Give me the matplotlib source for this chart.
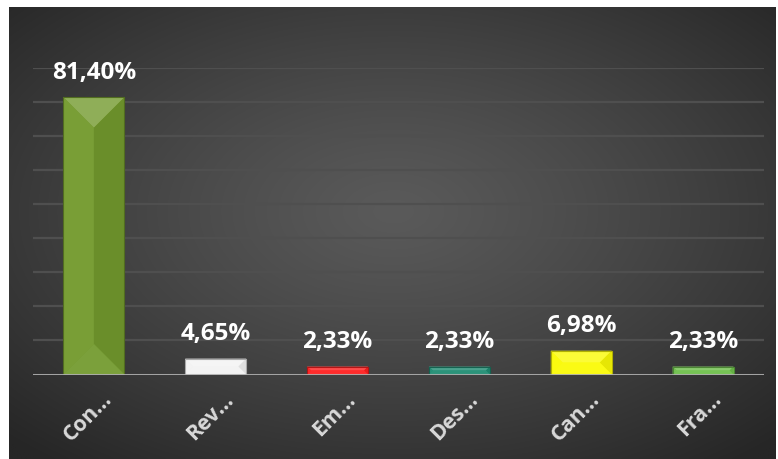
import numpy as np
import matplotlib
matplotlib.use("Agg")
import matplotlib.pyplot as plt
from matplotlib.patches import Polygon
from matplotlib.colors import to_rgb

categories = ["Con…", "Rev…", "Em…", "Des…", "Can…", "Fra…"]
values = [81.40, 4.65, 2.33, 2.33, 6.98, 2.33]
value_labels = ["81,40%", "4,65%", "2,33%", "2,33%", "6,98%", "2,33%"]
bar_colors = ["#739A2E", "#F2F2F2", "#FF1E1E", "#1E8C72", "#FAFA05", "#6DBF4A"]

W, H = 778, 460
fig = plt.figure(figsize=(W / 100, H / 100), dpi=100, facecolor="white")

# background with radial gradient
bg = fig.add_axes([9 / W, 0, (776 - 9) / W, (460 - 8) / H])
bg.set_axis_off()
ny, nx = 200, 340
yy, xx = np.mgrid[0:ny, 0:nx]
cx, cy = nx * 0.5, ny * 0.45
r = np.sqrt(((xx - cx) / (nx * 0.62)) ** 2 + ((yy - cy) / (ny * 0.62)) ** 2)
r = np.clip(r / 1.15, 0, 1)
c_in = np.array(to_rgb("#5a5a5a"))
c_out = np.array(to_rgb("#262626"))
img = c_in[None, None, :] * (1 - r[..., None] ** 1.2) + c_out[None, None, :] * (r[..., None] ** 1.2)
bg.imshow(img, aspect="auto", extent=[0, 1, 0, 1], interpolation="bilinear")
bg.set_xlim(0, 1)
bg.set_ylim(0, 1)

left, right = 33, 764
top, base = 69, 375.5
ax = fig.add_axes([left / W, (H - base) / H, (right - left) / W, (base - top) / H])
ax.set_facecolor("none")
for s in ax.spines.values():
    s.set_visible(False)
n = len(categories)
x = np.arange(n)
ax.set_xlim(-0.5, n - 0.5)
ax.set_ylim(0, 90)
ax.set_yticks(np.arange(10, 91, 10))
ax.yaxis.grid(True, color="#4f4f4f", linewidth=1.6)
ax.set_axisbelow(True)
ax.tick_params(left=False, bottom=False, labelleft=False, labelbottom=False)
ax.axhline(0, color="#b0b0b0", linewidth=2.2, alpha=0.9, zorder=5)

bw = 0.5
bars = ax.bar(x, values, width=bw, color=bar_colors, zorder=3, linewidth=0)


def shade(c, f):
    c = np.array(to_rgb(c))
    if f >= 0:
        return tuple(c + (1 - c) * f)
    return tuple(c * (1 + f))


ax_w_px = right - left
ax_h_px = base - top
sx = ax_w_px / n
sy = ax_h_px / 90.0
for rect, col in zip(bars, bar_colors):
    x0 = rect.get_x()
    x1 = x0 + rect.get_width()
    h = rect.get_height()
    w_px = rect.get_width() * sx
    h_px = h * sy
    b_px = min(w_px / 2, h_px / 2)
    bx = b_px / sx
    by = b_px / sy
    polys = [
        ([(x0, h), (x1, h), (x1 - bx, h - by), (x0 + bx, h - by)], shade(col, 0.2)),
        ([(x0, 0), (x0, h), (x0 + bx, h - by), (x0 + bx, by)], shade(col, 0.04)),
        ([(x1, 0), (x1, h), (x1 - bx, h - by), (x1 - bx, by)], shade(col, -0.08)),
        ([(x0, 0), (x1, 0), (x1 - bx, by), (x0 + bx, by)], shade(col, 0.06)),
    ]
    for pts, fc in polys:
        ax.add_patch(Polygon(pts, closed=True, facecolor=fc, edgecolor="none", zorder=4))
    ax.add_patch(Polygon([(x0, 0), (x0, h), (x1, h), (x1, 0)], closed=True,
                         facecolor="none", edgecolor=shade(col, -0.3), linewidth=0.8, zorder=4))

for xi, v, lab in zip(x, values, value_labels):
    ax.annotate(lab, xy=(xi, v), xytext=(0, 14), textcoords="offset points",
                ha="center", va="baseline", color="white", fontsize=17.5,
                fontweight="bold", family="Open Sans", zorder=6, annotation_clip=False)

for xi, lab in zip(x, categories):
    ax.annotate(lab, xy=(xi, 0), xytext=(11, -15), textcoords="offset points",
                ha="right", va="center", rotation=45, rotation_mode="anchor",
                color="#d9d9d9", fontsize=15.5, fontweight="bold", family="Open Sans",
                annotation_clip=False)

fig.savefig("out.png", dpi=100, facecolor="white")
